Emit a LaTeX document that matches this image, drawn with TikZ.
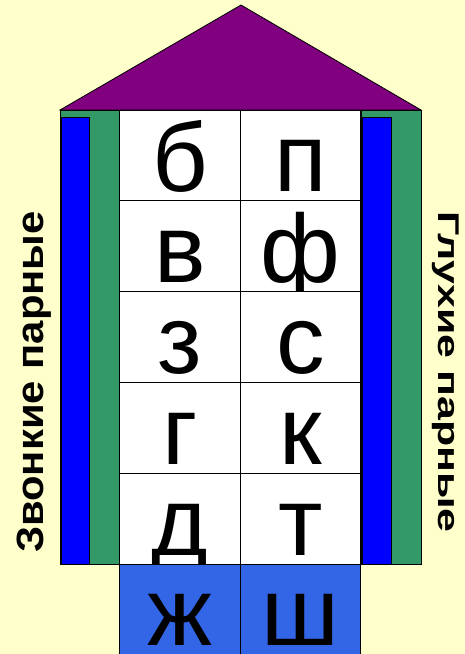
\documentclass[tikz,border=0pt]{standalone}
\usepackage{graphicx}
\usepackage{fontspec}
\setmainfont{Liberation Sans}
\usetikzlibrary{positioning}
\definecolor{bgyellow}{RGB}{255,255,204}
\definecolor{roofpurple}{RGB}{128,0,128}
\definecolor{wallgreen}{RGB}{51,153,102}
\definecolor{floorblue}{RGB}{51,102,230}
\begin{document}
\begin{tikzpicture}[x=1pt,y=-1pt,line width=0.8pt]
      \tikzset{cell/.style={draw,fill=white,minimum width=120.5pt,minimum height=90.8pt,inner sep=0pt,outer sep=0pt},
        floorcell/.style={cell,fill=floorblue,minimum height=90pt},
        letter/.style={anchor=base,inner sep=0pt,text depth=0pt,font=\fontsize{97}{97}\selectfont},
        sidetext/.style={anchor=base,inner sep=0pt}}
      \fill[bgyellow] (0,0) rectangle (465,654);
      \useasboundingbox (0,0) rectangle (465,654);
      % roof and walls
      \draw[fill=roofpurple] (241,5) -- (421,110) -- (60,110) -- cycle;
      \draw[fill=wallgreen] (60,110) rectangle (120,564);
      \draw[fill=blue] (61,117) rectangle (89,564);
      \draw[fill=wallgreen] (361,110) rectangle (421,564);
      \draw[fill=blue] (362,117) rectangle (391,564);
      % letter cells
      \foreach \l/\r [count=\i] in {б/п,в/ф,з/с,г/к,д/т} {
        \node[cell] (lc\i) at (180,{64.6+90.8*\i}) {};
        \node[cell] (rc\i) at (300.5,{64.6+90.8*\i}) {};
        \node[letter] (ll\i) at ([yshift=9pt]lc\i.south) {\l};
        \node[letter] (rl\i) at ([yshift=9pt]rc\i.south) {\r};
      }
      \node[floorcell] (lc6) at (180,609) {};
      \node[floorcell] (rc6) at (300.5,609) {};
      \node[letter] (ll6) at ([yshift=9pt]lc6.south) {ж};
      \node[letter] (rl6) at ([yshift=9pt]rc6.south) {ш};
      % side captions
      \node[sidetext,rotate=90,font=\bfseries\fontsize{38}{38}\selectfont] (voiced) at (43,382) {\scalebox{1.10}[1]{Звонкие парные}};
      \node[sidetext,rotate=-90,font=\bfseries\fontsize{30}{30}\selectfont] (voiceless) at (438,372) {\scalebox{1.43}[1]{Глухие парные}};
      \end{tikzpicture}
\end{document}
